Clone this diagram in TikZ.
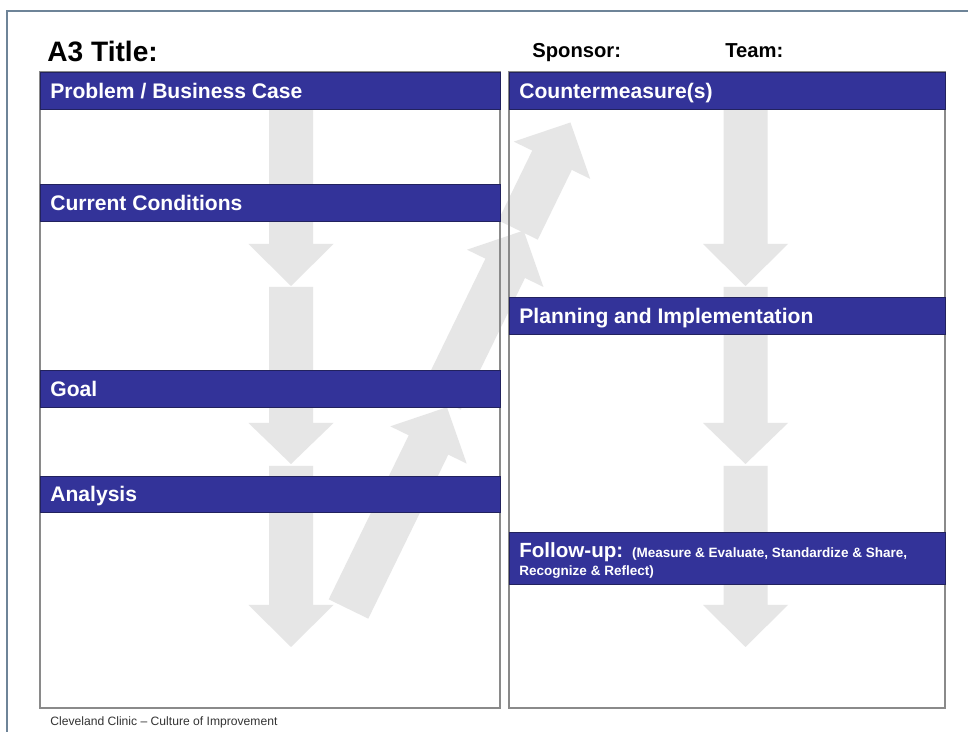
\documentclass[tikz,border=0pt]{standalone}
\usepackage{fontspec}
\setmainfont{Liberation Sans}
\usepackage{tikz}
\usepackage{xcolor}

\definecolor{headblue}{HTML}{333399}
\definecolor{headedge}{HTML}{22225E}
\definecolor{panelgray}{HTML}{8A8A8A}
\definecolor{arrowgray}{HTML}{E6E6E6}
\definecolor{frameblue}{HTML}{6E8498}

\begin{document}
\begin{tikzpicture}[x=0.02cm, y=-0.02cm,
    hbar/.style={fill=headblue, draw=headedge, line width=0.4pt},
    htext/.style={anchor=west, text=white, inner sep=0pt, text height=8.6pt, text depth=0pt,
        font=\bfseries\fontsize{12}{14}\selectfont},
    panel/.style={draw=panelgray, line width=0.6pt}]
    \useasboundingbox (0,0) rectangle (968,732);
    \fill[white] (0,0) rectangle (968,732);

    % 竖直流程箭头 (左右两栏)
    \foreach \cx in {291,745.5}
        \foreach \ytop/\ybase/\ytip in {100/244/286, 287/423/464, 466/605/647}
            \fill[arrowgray] (\cx-22,\ytop) -- (\cx+22,\ytop) -- (\cx+22,\ybase) -- (\cx+42.5,\ybase)
                -- (\cx,\ytip) -- (\cx-42.5,\ybase) -- (\cx-22,\ybase) -- cycle;

    % 斜向上的箭头
    \foreach \tx/\ty/\len in {348.5/609/224.5, 441/400/188.5, 518/230/119.6}
        \fill[arrowgray, shift={(\tx,\ty)}, rotate=-26] (-22,0) -- (22,0) -- (22,-\len+42)
            -- (42.5,-\len+42) -- (0,-\len) -- (-42.5,-\len+42) -- (-22,-\len+42) -- cycle;

    % 两个栏框
    \draw[panel] (40,72) rectangle (500,708);
    \draw[panel] (509,72) rectangle (945,708);

    % 标题栏
    \filldraw[hbar] (40,72) rectangle (500,109);
    \filldraw[hbar] (40,184) rectangle (500,221);
    \filldraw[hbar] (40,370) rectangle (500,407);
    \filldraw[hbar] (40,476) rectangle (500,512);
    \filldraw[hbar] (509,72) rectangle (945,109);
    \filldraw[hbar] (509,297) rectangle (945,334);
    \filldraw[hbar] (509,532) rectangle (945,584);

    \node[htext] (problem) at (50,90.5) {Problem / Business Case};
    \node[htext] (current) at (50,202.5) {Current Conditions};
    \node[htext] (goal) at (50,388.5) {Goal};
    \node[htext] (analysis) at (50,494) {Analysis};
    \node[htext] (counter) at (519,90.5) {Countermeasure(s)};
    \node[htext] (planning) at (519,315.5) {Planning and Implementation};
    \node[anchor=base west, inner sep=0pt, text=white, font=\bfseries] (followup) at (519,558)
        {{\fontsize{11.7}{14}\selectfont Follow-up:}\hspace{0.5em}{\fontsize{7.7}{9}\selectfont(Measure \& Evaluate, Standardize \& Share,}};
    \node[anchor=base west, inner sep=0pt, text=white, font=\bfseries\fontsize{7.7}{9}\selectfont] (reflect) at (519,576)
        {Recognize \& Reflect)};

    % 页头
    \node[anchor=base west, inner sep=0pt, font=\bfseries\fontsize{16}{19}\selectfont] (title) at (47,62) {A3 Title:};
    \node[anchor=base west, inner sep=0pt, font=\bfseries\fontsize{11.5}{14}\selectfont] (sponsor) at (532,57.5) {Sponsor:};
    \node[anchor=base west, inner sep=0pt, font=\bfseries\fontsize{11.5}{14}\selectfont] (team) at (725,57.5) {Team:};

    % 页脚
    \node[anchor=base west, inner sep=0pt, text=black!80, font=\fontsize{6.9}{8}\selectfont] (footer) at (50,726)
        {Cleveland Clinic -- Culture of Improvement};

    % 外框
    \draw[frameblue, line width=1.1pt] (7,732) -- (7,11) -- (968,11);
\end{tikzpicture}
\end{document}
